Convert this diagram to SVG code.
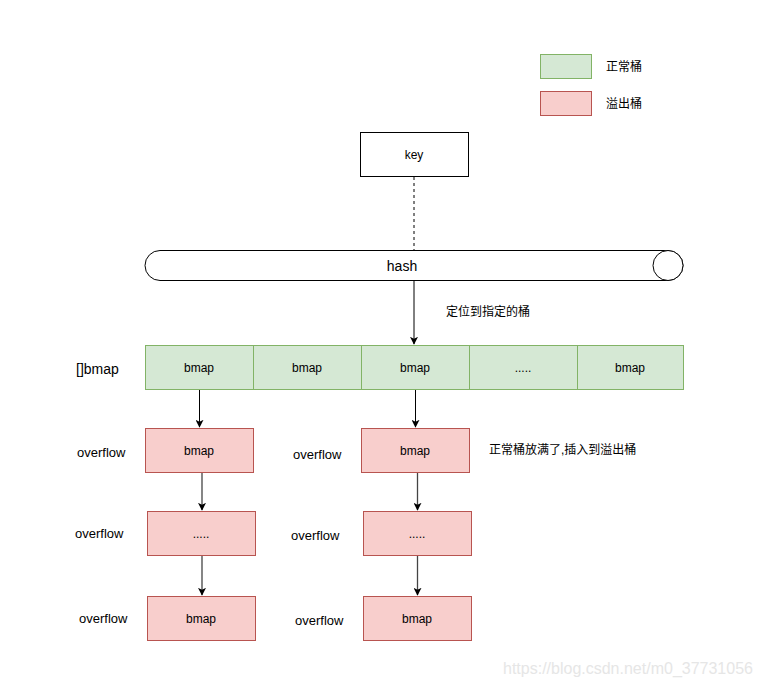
<svg xmlns="http://www.w3.org/2000/svg" width="760" height="687" viewBox="0 0 760 687">
<defs>
<style>
text{font-family:"Liberation Sans","Noto Sans CJK SC",Arial,sans-serif;font-size:12px;fill:#000}
.c{text-anchor:middle}
.g{fill:#d5e8d4;stroke:#82b366;stroke-width:1}
.r{fill:#f8cecc;stroke:#b85450;stroke-width:1}
.w{fill:#fff;stroke:#000;stroke-width:1}
.e{stroke:#000;stroke-width:1;fill:none}
.e2{stroke:#444;stroke-width:1.3;fill:none}
.o{font-size:13px}
</style>
<marker id="ah" viewBox="0 0 10 10" refX="9" refY="5" markerWidth="8" markerHeight="8" markerUnits="userSpaceOnUse" orient="auto">
<path d="M0,0 L10,5 L0,10 L2.5,5 Z" fill="#000"/>
</marker>
</defs>
<rect width="760" height="687" fill="#fff"/>
<g id="legend">
<rect class="g" x="540.5" y="54.5" width="51" height="24"/>
<text x="606" y="71">正常桶</text>
<rect class="r" x="540.5" y="91.5" width="51" height="24"/>
<text x="606" y="108">溢出桶</text>
</g>
<g id="connectors">
<line class="e" x1="414" y1="177" x2="414" y2="250" stroke-dasharray="3,3"/>
<line class="e" x1="414" y1="280" x2="414" y2="344" marker-end="url(#ah)"/>
<line class="e" x1="199.5" y1="389" x2="199.5" y2="427" marker-end="url(#ah)"/>
<line class="e" x1="415.5" y1="389" x2="415.5" y2="427" marker-end="url(#ah)"/>
<line class="e2" x1="202" y1="472" x2="202" y2="510" marker-end="url(#ah)"/>
<line class="e2" x1="202" y1="556" x2="202" y2="595" marker-end="url(#ah)"/>
<line class="e2" x1="417.5" y1="472" x2="417.5" y2="510" marker-end="url(#ah)"/>
<line class="e2" x1="417.5" y1="556" x2="417.5" y2="595" marker-end="url(#ah)"/>
</g>
<g id="key">
<rect class="w" x="360.5" y="132.5" width="108" height="44"/>
<text class="c" x="414" y="159">key</text>
</g>
<g id="hash">
<path class="w" d="M160,250.5 L668,250.5 A15,15 0 0 1 668,280.5 L160,280.5 A15,15 0 0 1 160,250.5 Z"/>
<circle class="w" cx="668" cy="265.5" r="15"/>
<text class="c" x="402" y="271" style="font-size:14px">hash</text>
</g>
<text x="446" y="316">定位到指定的桶</text>
<g id="array">
<rect class="g" x="145.5" y="345.5" width="108" height="44"/>
<text class="c" x="199" y="372">bmap</text>
<rect class="g" x="253.5" y="345.5" width="108" height="44"/>
<text class="c" x="307" y="372">bmap</text>
<rect class="g" x="361.5" y="345.5" width="108" height="44"/>
<text class="c" x="415" y="372">bmap</text>
<rect class="g" x="469.5" y="345.5" width="108" height="44"/>
<text class="c" x="523" y="372">.....</text>
<rect class="g" x="577.5" y="345.5" width="106" height="44"/>
<text class="c" x="630" y="372">bmap</text>
</g>
<text x="76" y="374" style="font-size:14px">[]bmap</text>
<g id="ovL1"><rect class="r" x="145.5" y="428.5" width="108" height="44"/><text class="c" x="199" y="455">bmap</text></g>
<g id="ovL2"><rect class="r" x="147.5" y="511.5" width="108" height="44"/><text class="c" x="201" y="538">.....</text></g>
<g id="ovL3"><rect class="r" x="147.5" y="596.5" width="108" height="44"/><text class="c" x="201" y="623">bmap</text></g>
<g id="ovR1"><rect class="r" x="361.5" y="428.5" width="108" height="44"/><text class="c" x="415" y="455">bmap</text></g>
<g id="ovR2"><rect class="r" x="363.5" y="511.5" width="108" height="44"/><text class="c" x="417" y="538">.....</text></g>
<g id="ovR3"><rect class="r" x="363.5" y="596.5" width="108" height="44"/><text class="c" x="417" y="623">bmap</text></g>
<g id="labels">
<text class="o" x="77" y="457">overflow</text>
<text class="o" x="75" y="538">overflow</text>
<text class="o" x="79" y="623">overflow</text>
<text class="o" x="293" y="459">overflow</text>
<text class="o" x="291" y="540">overflow</text>
<text class="o" x="295" y="625">overflow</text>
</g>
<text x="489" y="454">正常桶放满了,插入到溢出桶</text>
<text x="503" y="674" style="font-size:16px;fill:#e6e6e6">https://blog.csdn.net/m0_37731056</text>
</svg>
